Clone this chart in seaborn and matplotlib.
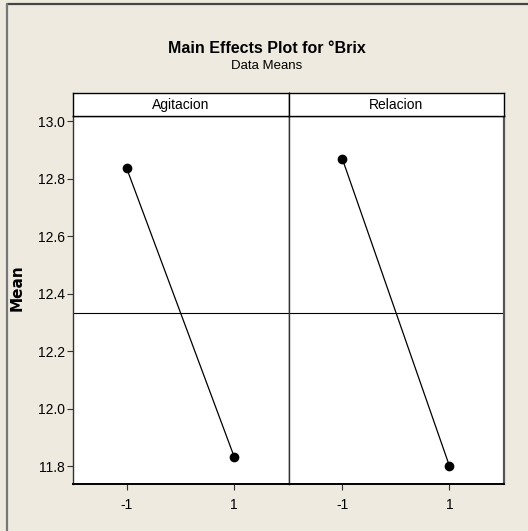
import matplotlib
matplotlib.use("Agg")
import matplotlib.pyplot as plt
import seaborn as sns
import pandas as pd
import numpy as np
from matplotlib.lines import Line2D

# Factor levels and mean °Brix at each level
factors = ["Agitacion", "Relacion"]
levels = [-1, 1]
agitacion_means = [12.835, 11.832]
relacion_means = [12.867, 11.800]
y_ticks = [11.8, 12.0, 12.2, 12.4, 12.6, 12.8, 13.0]

df = pd.DataFrame({
    "factor": np.repeat(factors, len(levels)),
    "level": levels * len(factors),
    "mean": agitacion_means + relacion_means,
})
grand_mean = df.groupby("factor")["mean"].mean().mean()

sns.set_theme(style="white")
plt.rcParams["font.family"] = ["Liberation Sans", "DejaVu Sans"]
for key in ["text.color", "axes.labelcolor", "xtick.color", "ytick.color"]:
    plt.rcParams[key] = "black"

W, H = 528, 531
fig = plt.figure(figsize=(W / 100, H / 100), dpi=100)
bg = "#EEEAE0"
fig.patch.set_facecolor(bg)


def fx(px):
    return px / W


def fy(py):
    return 1 - py / H


# outer frame lines (top and left)
fig.add_artist(Line2D([fx(6.5), 1], [fy(4), fy(4)], color="#444444", lw=1.6))
fig.add_artist(Line2D([fx(6.5), fx(6.5)], [fy(4), 0], color="#777777", lw=1.6))

left, mid, right = 73, 289, 504
top, bottom, strip_top = 116, 484, 93
ylim = (11.8 - 18 / 287.5, 13.0 + 5 / 287.5)

for i, (x0, x1) in enumerate([(left, mid), (mid, right)]):
    ax = fig.add_axes([fx(x0), fy(bottom), fx(x1 - x0), fy(top) - fy(bottom)])
    sub = df[df["factor"] == factors[i]]
    sns.lineplot(data=sub, x="level", y="mean", ax=ax, color="black",
                 lw=0.9, marker="o", markersize=7, markeredgecolor="black",
                 markeredgewidth=0, legend=False)
    ax.axhline(grand_mean, color="black", lw=0.8)
    ax.set_xlim(-2, 2.02)
    ax.set_ylim(*ylim)
    ax.set_xticks(levels)
    ax.set_xticklabels([str(v) for v in levels], fontsize=10)
    ax.set_xlabel("")
    ax.set_ylabel("")
    ax.set_facecolor("white")
    for s in ax.spines.values():
        s.set_color("#333333")
        s.set_linewidth(1.0)
    ax.spines["bottom"].set_color("black")
    ax.spines["bottom"].set_linewidth(1.4)
    ax.tick_params(axis="x", direction="out", length=4, width=0.8,
                   color="#333333", pad=6, bottom=True)
    if i == 0:
        ax.set_yticks(y_ticks)
        ax.set_yticklabels([f"{v:.1f}" for v in y_ticks], fontsize=10)
        ax.tick_params(axis="y", direction="out", length=4, width=0.8,
                       color="#333333", pad=2, left=True)
    else:
        ax.set_yticks([])
        ax.spines["right"].set_linewidth(1.6)
        ax.spines["right"].set_color("#555555")

    # strip header with factor name
    sax = fig.add_axes([fx(x0), fy(top), fx(x1 - x0), fy(strip_top) - fy(top)])
    sax.set_xticks([])
    sax.set_yticks([])
    sax.set_facecolor("white")
    for s in sax.spines.values():
        s.set_color("black")
        s.set_linewidth(1.0)
    sax.text(0.5, 0.3, factors[i], ha="center", va="baseline", fontsize=10,
             transform=sax.transAxes)

fig.text(fx(267), fy(48), "Main Effects Plot for °Brix", ha="center",
         va="center", fontsize=11.5, fontweight="bold")
fig.text(fx(267), fy(66), "Data Means", ha="center", va="center",
         fontsize=9.5)
fig.text(fx(17), fy(288), "Mean", ha="center", va="center", rotation=90,
         fontsize=11, fontweight="bold", family="DejaVu Sans")

fig.savefig("out.png", dpi=100, facecolor=bg)
